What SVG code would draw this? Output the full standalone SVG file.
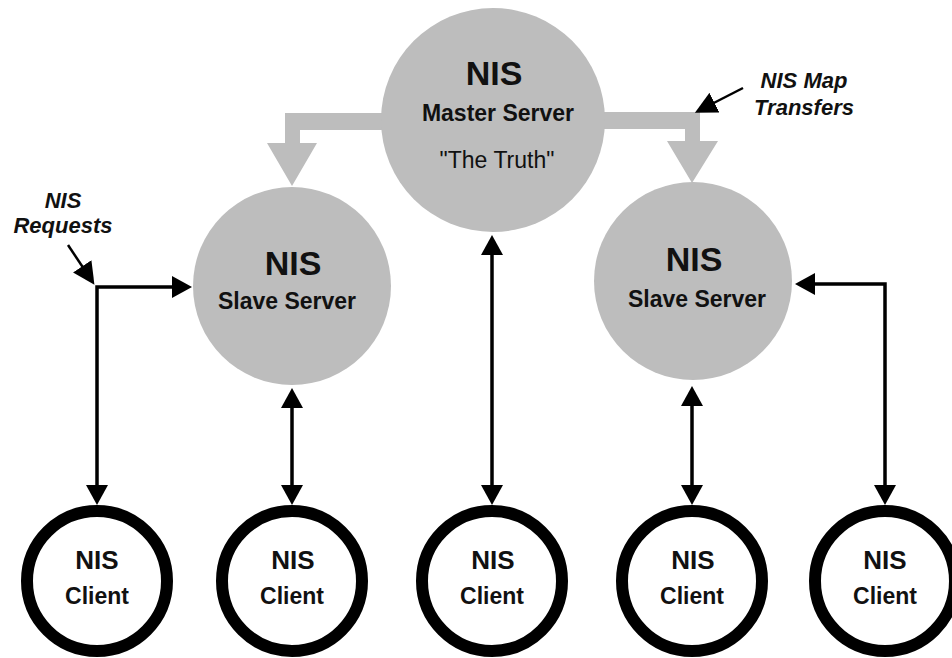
<svg xmlns="http://www.w3.org/2000/svg" width="952" height="658" viewBox="0 0 952 658">
<style>
text{font-family:"Liberation Sans",Arial,sans-serif;fill:#111;text-anchor:middle}
.big{font-size:34px;font-weight:bold}
.sub{font-size:23px;font-weight:bold}
.truth{font-size:23px}
.cn{font-size:26px;font-weight:bold}
.cl{font-size:23px;font-weight:bold}
.lbl{font-size:22px;font-weight:bold;font-style:italic}
.server{fill:#bdbdbd}
.client{fill:#fff;stroke:#000;stroke-width:12}
.conn{fill:none;stroke:#000;stroke-width:3.5}
.ptr{fill:none;stroke:#000;stroke-width:2.5}
.band{fill:#bdbdbd}
</style>
<defs>
<marker id="ah" markerUnits="userSpaceOnUse" markerWidth="20" markerHeight="22" refX="12" refY="11" orient="auto-start-reverse" viewBox="0 0 20 22">
<path d="M0,0 L20,11 L0,22 z" fill="#000"/>
</marker>
<marker id="ap" markerUnits="userSpaceOnUse" markerWidth="22" markerHeight="22" refX="14" refY="11" orient="auto" viewBox="0 0 22 22">
<path d="M0,0 L22,11 L0,22 z" fill="#000"/>
</marker>
</defs>

<g id="transfers">
<path class="band" d="M390,113 L285,113 L285,143 L267,143 L292,186 L317,143 L300,143 L300,130 L390,130 z"/>
<path class="band" d="M595,112 L700,112 L700,141 L718,141 L692,183 L667,141 L685,141 L685,129 L595,129 z"/>
</g>

<g id="master">
<circle class="server" cx="493" cy="120" r="112"/>
<text class="big" x="494" y="85">NIS</text>
<text class="sub" x="498" y="121">Master Server</text>
<text class="truth" x="497" y="168">"The Truth"</text>
</g>

<g id="slave-left">
<circle class="server" cx="292" cy="286" r="99"/>
<text class="big" x="293" y="275">NIS</text>
<text class="sub" x="287" y="309">Slave Server</text>
</g>

<g id="slave-right">
<circle class="server" cx="693" cy="281" r="99"/>
<text class="big" x="694" y="271">NIS</text>
<text class="sub" x="697" y="307">Slave Server</text>
</g>

<g id="client-1">
<circle class="client" cx="97" cy="581" r="70"/>
<text class="cn" x="97" y="569">NIS</text>
<text class="cl" x="97" y="604">Client</text>
</g>
<g id="client-2">
<circle class="client" cx="292" cy="581" r="70"/>
<text class="cn" x="293" y="569">NIS</text>
<text class="cl" x="292" y="604">Client</text>
</g>
<g id="client-3">
<circle class="client" cx="492" cy="581" r="70"/>
<text class="cn" x="493" y="569">NIS</text>
<text class="cl" x="492" y="604">Client</text>
</g>
<g id="client-4">
<circle class="client" cx="692" cy="581" r="70"/>
<text class="cn" x="693" y="569">NIS</text>
<text class="cl" x="692" y="604">Client</text>
</g>
<g id="client-5">
<circle class="client" cx="885" cy="581" r="70"/>
<text class="cn" x="885" y="569">NIS</text>
<text class="cl" x="885" y="604">Client</text>
</g>

<g id="connectors">
<path class="conn" d="M97,497 L97,287 L184,287" marker-start="url(#ah)" marker-end="url(#ah)"/>
<path class="conn" d="M292,396 L292,497" marker-start="url(#ah)" marker-end="url(#ah)"/>
<path class="conn" d="M492,243 L492,497" marker-start="url(#ah)" marker-end="url(#ah)"/>
<path class="conn" d="M692,394 L692,497" marker-start="url(#ah)" marker-end="url(#ah)"/>
<path class="conn" d="M885,497 L885,284 L803,284" marker-start="url(#ah)" marker-end="url(#ah)"/>
<path class="ptr" d="M68,245 L90,278" marker-end="url(#ap)"/>
<path class="ptr" d="M743,88 L702,109" marker-end="url(#ap)"/>
</g>

<g id="labels">
<text class="lbl" x="63" y="208">NIS</text>
<text class="lbl" x="63" y="233">Requests</text>
<text class="lbl" x="804" y="88">NIS Map</text>
<text class="lbl" x="804" y="115">Transfers</text>
</g>
</svg>
